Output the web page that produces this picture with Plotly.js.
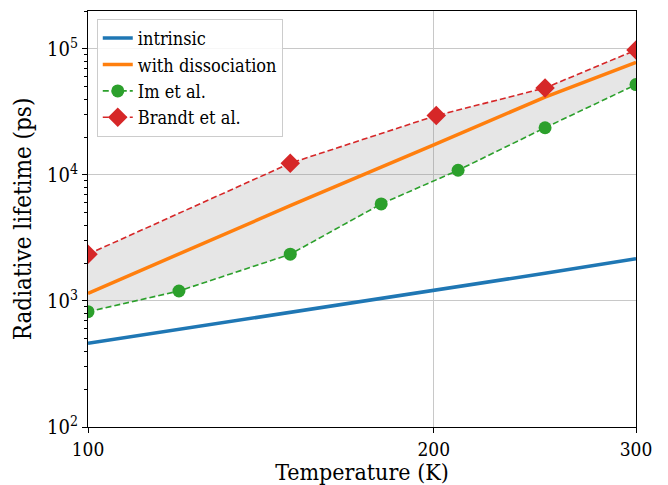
<!DOCTYPE html>
<html>
<head>
<meta charset="utf-8">
<script src="https://cdn.plot.ly/plotly-3.0.1.min.js"></script>
<style>html,body{margin:0;padding:0;background:#fff;}</style>
</head>
<body>
<div id="chart" style="width:668px;height:485px;"></div>
<script>
// Temperature (K)
const tempModel = [100, 150, 200, 250, 300];
const intrinsic = [461, 810, 1210, 1660, 2160];
const withDissociation = [1150, 5700, 17300, 41500, 78300];

const tempIm = [100, 120, 150, 180, 210, 250, 300];
const imEtAl = [822, 1200, 2350, 5890, 10900, 23700, 52100];

const tempBrandt = [100, 150, 201, 250, 300];
const brandtEtAl = [2350, 12400, 29600, 49000, 98000];

const xTickVals = [100, 200, 300];
const xTickText = ['100', '200', '300'];
const yTickVals = [100, 1000, 10000, 100000];
const yTickText = ['10<sup>2</sup>', '10<sup>3</sup>', '10<sup>4</sup>', '10<sup>5</sup>'];
const yMinorVals = [200,300,400,500,600,700,800,900,
                    2000,3000,4000,5000,6000,7000,8000,9000,
                    20000,30000,40000,50000,60000,70000,80000,90000,200000];

const FONT = 'DejaVu Serif Condensed, Noto Serif, serif';

const traces = [
  {x: tempIm, y: imEtAl, mode: 'lines', line: {width: 0, color: 'rgba(0,0,0,0)'},
   showlegend: false, hoverinfo: 'skip'},
  {x: tempBrandt, y: brandtEtAl, mode: 'lines', line: {width: 0, color: 'rgba(0,0,0,0)'},
   fill: 'tonexty', fillcolor: 'rgba(128,128,128,0.2)', showlegend: false, hoverinfo: 'skip'},
  {x: tempModel, y: intrinsic, mode: 'lines', name: 'intrinsic',
   line: {color: '#1f77b4', width: 3.5}},
  {x: tempModel, y: withDissociation, mode: 'lines', name: 'with dissociation',
   line: {color: '#ff7f0e', width: 3.5}},
  {x: tempIm, y: imEtAl, mode: 'lines+markers', name: 'Im et al.',
   line: {color: '#2ca02c', width: 1.6, dash: '6px,3px'},
   marker: {symbol: 'circle', size: 13, color: '#2ca02c'}},
  {x: tempBrandt, y: brandtEtAl, mode: 'lines+markers', name: 'Brandt et al.',
   line: {color: '#d62728', width: 1.6, dash: '6px,3px'},
   marker: {symbol: 'diamond', size: 15, color: '#d62728'}}
];

const layout = {
  width: 668, height: 485,
  margin: {l: 88, r: 32, t: 11, b: 58},
  paper_bgcolor: '#fff', plot_bgcolor: '#fff',
  font: {family: FONT, color: '#000', size: 20},
  showlegend: true,
  legend: {
    x: 0.016, y: 0.981, xanchor: 'left', yanchor: 'top',
    traceorder: 'normal',
    bgcolor: 'rgba(255,255,255,0.85)', bordercolor: '#cccccc', borderwidth: 1,
    font: {family: FONT, size: 18, color: '#000'},
    tracegroupgap: 0
  },
  xaxis: {
    type: 'log', range: [2, Math.log10(300)],
    tickmode: 'array', tickvals: xTickVals, ticktext: xTickText,
    ticks: 'outside', ticklen: 5, tickwidth: 1, tickcolor: '#000',
    showline: true, linecolor: '#000', linewidth: 1.2, mirror: true,
    showgrid: true, gridcolor: '#c8c8c8', gridwidth: 1,
    zeroline: false,
    tickfont: {family: FONT, size: 19, color: '#000'},
    title: {text: 'Temperature (K)', font: {family: FONT, size: 23, color: '#000'}, standoff: 10}
  },
  yaxis: {
    type: 'log', range: [2, Math.log10(2e5)],
    tickmode: 'array', tickvals: yTickVals, ticktext: yTickText,
    ticks: 'outside', ticklen: 5, tickwidth: 1, tickcolor: '#000',
    minor: {tickmode: 'array', tickvals: yMinorVals, ticks: 'outside', ticklen: 3,
            tickwidth: 0.8, tickcolor: '#000', showgrid: false},
    showline: true, linecolor: '#000', linewidth: 1.2, mirror: true,
    showgrid: true, gridcolor: '#c8c8c8', gridwidth: 1,
    zeroline: false,
    tickfont: {family: FONT, size: 20, color: '#000'},
    title: {text: 'Radiative lifetime (ps)', font: {family: FONT, size: 24, color: '#000'}, standoff: 8}
  }
};

Plotly.newPlot('chart', traces, layout, {displayModeBar: false});
</script>
</body>
</html>
